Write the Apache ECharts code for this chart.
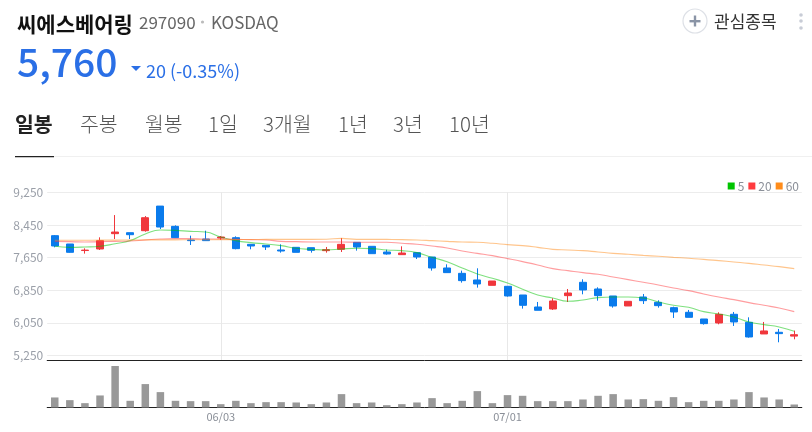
<!DOCTYPE html>
<html><head><meta charset="utf-8">
<style>html,body{margin:0;padding:0;background:#fff}#c{width:812px;height:432px}</style>
<script src="https://cdn.jsdelivr.net/npm/echarts@6/dist/echarts.min.js"></script>
</head><body><div id="c"></div>
<script>
const categories=['05/18','05/19','05/20','05/23','05/24','05/25','05/26','05/27','05/30','05/31','06/02','06/03','06/07','06/08','06/09','06/10','06/13','06/14','06/15','06/16','06/17','06/20','06/21','06/22','06/23','06/24','06/27','06/28','06/29','06/30','07/01','07/04','07/05','07/06','07/07','07/08','07/11','07/12','07/13','07/14','07/15','07/18','07/19','07/20','07/21','07/22','07/25','07/26','07/27','07/28'];
const opens=[8187,7983,7823,7861,8236,8260,8309,8912,8415,8081,8105,8130,8138,7975,7950,7836,7901,7893,7820,7852,8024,7926,7787,7722,7771,7664,7395,7264,7101,6970,6946,6733,6439,6390,6717,7044,6880,6709,6464,6684,6554,6423,6309,6145,6047,6260,6064,5778,5819,5725];
const closes=[7934,7779,7833,8065,8276,8211,8627,8399,8138,8065,8065,8154,7869,7934,7910,7811,7779,7828,7844,7975,7909,7746,7738,7762,7664,7395,7281,7085,7003,7076,6709,6480,6358,6586,6782,6856,6717,6464,6578,6594,6472,6317,6186,6031,6260,6072,5704,5852,5786,5760];
const lows=[7902,7771,7747,7836,8105,8105,8285,8350,8138,7959,8065,8081,7853,7853,7836,7771,7779,7771,7771,7787,7820,7746,7722,7722,7615,7330,7281,7036,6913,6970,6693,6399,6358,6366,6562,6750,6594,6423,6464,6513,6423,6170,6186,6007,6015,5974,5688,5778,5574,5647];
const highs=[8203,7983,7877,8146,8692,8260,8668,8912,8440,8187,8309,8179,8171,7975,7950,7975,7901,7893,7910,8130,8024,7926,7844,7926,7771,7664,7485,7330,7387,7076,6946,6733,6562,6652,6880,7117,6921,6709,6578,6758,6603,6447,6366,6145,6309,6317,6186,6072,5900,5860];
const ma5=[7926,7901,7909,7926,7991,8065,8228,8326,8318,8293,8277,8154,8065,8016,7983,7942,7877,7852,7836,7860,7877,7869,7836,7820,7771,7656,7550,7395,7248,7142,7027,6872,6733,6660,6578,6611,6668,6684,6684,6660,6562,6480,6431,6325,6268,6194,6072,6007,5949,5843];
const ma20=[8048,8040,8032,8040,8048,8056,8081,8105,8114,8114,8105,8105,8097,8089,8081,8048,8040,8032,8032,8032,8024,8024,8024,8000,7975,7934,7885,7811,7754,7697,7625,7550,7470,7379,7330,7281,7240,7174,7109,7044,6978,6905,6840,6758,6684,6619,6546,6480,6415,6325];
const ma60=[8073,8073,8075,8077,8079,8081,8083,8085,8085,8087,8087,8089,8091,8093,8095,8097,8097,8097,8100,8120,8097,8097,8095,8091,8081,8065,8048,8032,8024,8000,7967,7942,7901,7852,7836,7820,7787,7754,7730,7705,7681,7656,7632,7607,7575,7542,7509,7468,7428,7379];
const volumes=[300000,220000,130000,360000,1240000,200000,700000,460000,200000,190000,190000,100000,200000,130000,160000,160000,150000,100000,150000,400000,130000,150000,70000,100000,150000,280000,130000,200000,490000,130000,370000,350000,190000,190000,190000,240000,350000,400000,240000,250000,200000,310000,160000,200000,200000,240000,460000,300000,240000,90000];
const yTicks=[5250,6050,6850,7650,8450,9250];
const shownDates=['06/03','07/01'];
const seriesNames=['5','20','60'];
const tabs=[['일봉',15,true],['주봉',80],['월봉',145],['1일',208],['3개월',263],['1년',338],['3년',393],['10년',449]];

const KR='"Noto Sans CJK KR","Noto Sans",sans-serif';
const showDate=(i,v)=>shownDates.includes(v);
const txt=(text,x,y,font,fill)=>({type:'text',silent:true,style:{text,x,y,font,fill,textVerticalAlign:'middle'}});
const graphics=[
 txt('씨에스베어링',17,24,'bold 21px '+KR,'#111'),
 txt('297090',139,23,'17px '+KR,'#666'),
 {type:'circle',shape:{cx:202.5,cy:22,r:1.6},style:{fill:'#bbb'}},
 txt('KOSDAQ',211,23,'17px '+KR,'#666'),
 txt('5,760',17,62,'500 39px '+KR,'#2a6fe6'),
 {type:'polygon',shape:{points:[[131,66],[141,66],[136,71]]},style:{fill:'#2a6fe6'}},
 txt('20 (-0.35%)',146,71,'18px '+KR,'#2a6fe6'),
 {type:'circle',shape:{cx:695,cy:21,r:12},style:{fill:'#fff',stroke:'#dde0e6',lineWidth:1.2}},
 {type:'rect',shape:{x:689.5,y:20,width:11,height:2.4},style:{fill:'#8a94a6'}},
 {type:'rect',shape:{x:693.8,y:15.5,width:2.4,height:11},style:{fill:'#8a94a6'}},
 txt('관심종목',714,22,'17px '+KR,'#333'),
 {type:'circle',shape:{cx:801,cy:15,r:1.8},style:{fill:'#c8ccd6'}},
 {type:'circle',shape:{cx:801,cy:21,r:1.8},style:{fill:'#c8ccd6'}},
 {type:'circle',shape:{cx:801,cy:28,r:1.8},style:{fill:'#c8ccd6'}},
 {type:'rect',shape:{x:15,y:156,width:797,height:1},style:{fill:'#f0f0f0'}},
 {type:'rect',shape:{x:15,y:156,width:39,height:1.2},style:{fill:'#222'}},
 ...tabs.map(t=>txt(t[0],t[1],124,(t[2]?'bold ':'300 ')+'20.5px '+KR,t[2]?'#222':'#555'))
];
const maLine=(name,data,color)=>({name,type:'line',data,xAxisIndex:0,yAxisIndex:0,showSymbol:false,smooth:0.5,itemStyle:{color},lineStyle:{color,width:1.1,opacity:0.5},silent:true,z:3});

echarts.init(document.getElementById('c'),null,{renderer:'canvas'}).setOption({
 animation:false,backgroundColor:'#fff',
 graphic:graphics,
 textStyle:{fontFamily:KR},
 legend:{data:seriesNames,right:8,top:175,itemWidth:7,itemHeight:7,itemGap:4,icon:'rect',selectedMode:false,
  textStyle:{color:'#8a8f98',fontSize:12,padding:[0,0,0,-2]}},
 grid:[{left:47.2,right:10.2,top:192.3,height:168.2},{left:47.2,right:10.2,top:361,height:46.5}],
 xAxis:[
  {type:'category',gridIndex:0,data:categories,axisLine:{lineStyle:{color:'#222',width:1}},axisTick:{show:false},axisLabel:{show:false},
   splitLine:{show:true,alignWithLabel:true,interval:showDate,lineStyle:{color:'#e8e8e8'}}},
  {type:'category',gridIndex:1,data:categories,axisLine:{lineStyle:{color:'#222',width:1}},
   axisTick:{alignWithLabel:true,interval:showDate,length:4,lineStyle:{color:'#222'}},
   axisLabel:{interval:showDate,color:'#8a8f98',fontSize:11,margin:4},splitLine:{show:false}}
 ],
 yAxis:[
  {type:'value',gridIndex:0,min:5127.5,max:9250,axisLine:{show:false},
   axisTick:{show:false,customValues:yTicks},
   axisLabel:{customValues:yTicks,color:'#9a9fa8',fontSize:12,margin:4,formatter:v=>v.toLocaleString('en-US')},
   splitLine:{show:true,customValues:yTicks,lineStyle:{color:'#ececec'}}},
  {type:'value',gridIndex:1,min:0,max:1390000,axisLine:{show:false},axisTick:{show:false},axisLabel:{show:false},splitLine:{show:false}}
 ],
 series:[
  {type:'candlestick',xAxisIndex:0,yAxisIndex:0,barWidth:7.5,z:2,silent:true,
   data:categories.map((c,i)=>[opens[i],closes[i],lows[i],highs[i]]),
   itemStyle:{color:'#f0373c',color0:'#0a7bec',borderColor:'#f0373c',borderColor0:'#0a7bec',borderWidth:1}},
  maLine('5',ma5,'#00c400'),maLine('20',ma20,'#ff3b3f'),maLine('60',ma60,'#ff8c1a'),
  {type:'bar',xAxisIndex:1,yAxisIndex:1,data:volumes,barWidth:7.5,itemStyle:{color:'#999'},silent:true}
 ]
});
</script></body></html>
